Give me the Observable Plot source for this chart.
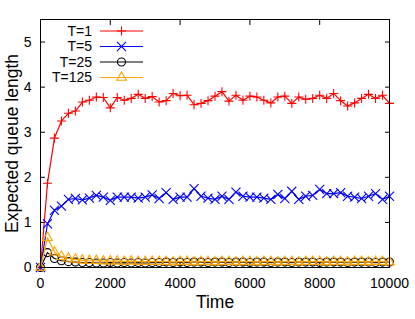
<!DOCTYPE html>
<html>
<head>
<meta charset="utf-8">
<script src="https://cdn.jsdelivr.net/npm/d3@7"></script>
<script src="https://cdn.jsdelivr.net/npm/@observablehq/plot@0.6"></script>
<style>
  html, body { margin: 0; padding: 0; background: white; }
  #wrap { position: relative; width: 415px; height: 319px; }
  #wrap svg { position: absolute; left: 0; top: 0; }
</style>
</head>
<body>
<div id="wrap"></div>
<script>
const time = [0,200,400,600,800,1000,1200,1400,1600,1800,2000,2200,2400,2600,2800,3000,3200,
  3400,3600,3800,4000,4200,4400,4600,4800,5000,5200,5400,5600,5800,6000,6200,6400,6600,
  6800,7000,7200,7400,7600,7800,8000,8200,8400,8600,8800,9000,9200,9400,9600,9800,10000];

const t1 = [0,1.87,2.87,3.25,3.42,3.47,3.67,3.71,3.78,3.77,3.54,3.77,3.71,3.75,3.84,3.75,3.79,
  3.67,3.70,3.86,3.81,3.82,3.61,3.64,3.70,3.80,3.90,3.69,3.82,3.71,3.80,3.78,3.71,3.65,
  3.78,3.80,3.64,3.78,3.73,3.75,3.82,3.75,3.86,3.70,3.58,3.65,3.75,3.84,3.75,3.82,3.64];

const t5 = [0,0.97,1.27,1.36,1.51,1.53,1.50,1.54,1.60,1.56,1.49,1.56,1.56,1.56,1.54,1.56,1.61,
  1.53,1.66,1.51,1.56,1.56,1.75,1.58,1.54,1.51,1.58,1.51,1.67,1.58,1.56,1.56,1.54,1.51,
  1.62,1.53,1.69,1.51,1.58,1.60,1.73,1.64,1.64,1.66,1.58,1.56,1.53,1.58,1.64,1.51,1.58];

const t25 = [0,0.33,0.20,0.15,0.13,0.12,0.11,0.11,0.10,0.10,0.11,0.10,0.11,0.10,0.11,0.10,0.11,
  0.11,0.12,0.11,0.12,0.11,0.12,0.12,0.11,0.12,0.12,0.11,0.12,0.12,0.11,0.12,0.12,0.11,
  0.12,0.12,0.11,0.12,0.12,0.12,0.11,0.12,0.12,0.12,0.11,0.12,0.12,0.12,0.11,0.12,0.12];

const t125 = [0,0.66,0.34,0.24,0.20,0.18,0.16,0.15,0.15,0.14,0.14,0.14,0.13,0.14,0.13,0.13,0.13,
  0.13,0.13,0.12,0.13,0.13,0.12,0.13,0.13,0.12,0.13,0.13,0.12,0.13,0.13,0.12,0.13,0.13,
  0.12,0.13,0.13,0.12,0.13,0.13,0.13,0.12,0.13,0.13,0.12,0.13,0.13,0.12,0.13,0.13,0.12];

const seriesNames = ["T=1", "T=5", "T=25", "T=125"];
const seriesColors = ["#ff0000", "#0000ff", "#000000", "#ffa500"];
const seriesSymbols = ["plus", "times", "circle", "triangle"];
const seriesValues = [t1, t5, t25, t125];

const xTicks = [0, 2000, 4000, 6000, 8000, 10000];
const yTicks = [0, 1, 2, 3, 4, 5];
const xLabel = "Time";
const yLabel = "Expected queue length";

const symbolR = {plus: 3.0, times: 4.2, circle: 4, triangle: 3.6};

const lineMarks = [];
seriesValues.forEach((vals, i) => {
  const data = time.map((t, j) => ({t, v: vals[j]}));
  lineMarks.push(Plot.line(data, {x: "t", y: "v", stroke: seriesColors[i], strokeWidth: 1.2}));
  lineMarks.push(Plot.dot(data, {x: "t", y: "v", stroke: seriesColors[i], symbol: seriesSymbols[i],
    r: symbolR[seriesSymbols[i]], strokeWidth: 1.1, fill: "none"}));
});

const chart = Plot.plot({
  width: 415, height: 319,
  marginLeft: 40, marginRight: 26, marginTop: 19, marginBottom: 52,
  style: {fontFamily: "'Liberation Sans', Arial, sans-serif", fontSize: "14px", color: "black", background: "white"},
  x: {domain: [0, 10000]},
  y: {domain: [0, 5.5]},
  marks: [
    Plot.axisX({ticks: xTicks, tickSize: 0, tickPadding: 11, label: null, tickFormat: d => String(d), fontSize: 14}),
    Plot.axisY({ticks: yTicks, tickSize: 0, tickPadding: 9, label: null, tickFormat: d => String(d), fontSize: 14}),
    Plot.axisX({anchor: "bottom", ticks: xTicks, tickSize: -5, tickFormat: () => "", label: null}),
    Plot.axisX({anchor: "top", ticks: xTicks, tickSize: -5, tickFormat: () => "", label: null}),
    Plot.axisY({anchor: "left", ticks: yTicks, tickSize: -5, tickFormat: () => "", label: null}),
    Plot.axisY({anchor: "right", ticks: yTicks, tickSize: -5, tickFormat: () => "", label: null}),
    ...lineMarks,
    Plot.frame({stroke: "black", strokeWidth: 1}),
    Plot.text([xLabel], {frameAnchor: "bottom", dy: 40, fontSize: 17.5}),
    Plot.text([yLabel], {frameAnchor: "left", textAnchor: "middle", dx: -28, rotate: -90, fontSize: 17.5})
  ]
});
document.getElementById("wrap").appendChild(chart);

// legend overlay
const symMap = {plus: d3.symbolPlus, times: d3.symbolTimes, circle: d3.symbolCircle, triangle: d3.symbolTriangle};
const leg = d3.select("#wrap").append("svg").attr("width", 415).attr("height", 319)
  .style("font-family", "'Liberation Sans', Arial, sans-serif").style("font-size", "14px");
const rowY = [31, 46.5, 62, 77.5];
seriesNames.forEach((name, i) => {
  const g = leg.append("g").attr("transform", `translate(0,${rowY[i]})`);
  g.append("text").attr("x", 92).attr("y", 0).attr("dy", "0.35em").attr("text-anchor", "end").text(name);
  g.append("line").attr("x1", 100).attr("x2", 143).attr("y1", 0).attr("y2", 0)
    .attr("stroke", seriesColors[i]).attr("stroke-width", 1.2);
  const r = symbolR[seriesSymbols[i]];
  g.append("path").attr("transform", "translate(121.5,0)")
    .attr("d", d3.symbol(symMap[seriesSymbols[i]], Math.PI * r * r)())
    .attr("fill", "none").attr("stroke", seriesColors[i]).attr("stroke-width", 1.1);
});
</script>
</body>
</html>
